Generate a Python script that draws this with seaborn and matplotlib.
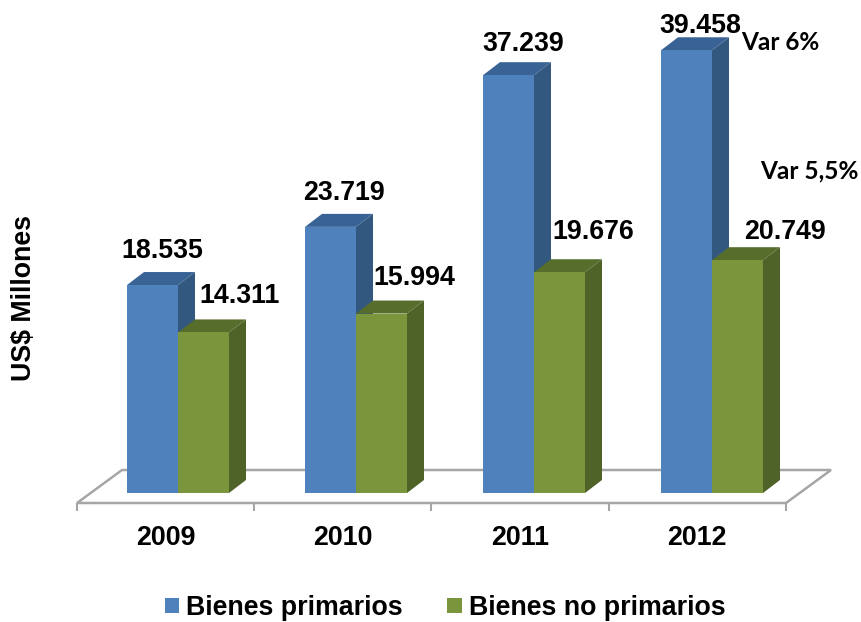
import matplotlib
matplotlib.use("Agg")
import matplotlib.pyplot as plt
import numpy as np
import pandas as pd
import seaborn as sns
from matplotlib.patches import Polygon

years = ["2009", "2010", "2011", "2012"]
primarios = [18535, 23719, 37239, 39458]
no_primarios = [14311, 15994, 19676, 20749]
series_names = ["Bienes primarios", "Bienes no primarios"]
value_labels_primarios = ["18.535", "23.719", "37.239", "39.458"]
value_labels_no_primarios = ["14.311", "15.994", "19.676", "20.749"]

front_colors = ["#4F81BD", "#7A953C"]
side_colors = ["#335880", "#4F6228"]
top_colors = ["#3A6395", "#566D2B"]
floor_color = "#A6A6A6"

sns.set_theme(style="white")
plt.rcParams["font.family"] = ["Liberation Sans", "DejaVu Sans"]
W, H = 862, 622
FS = 19.3
fig = plt.figure(figsize=(W / 100, H / 100), dpi=100)
L, R, T, B = 77, 786, 30, 503
ax = fig.add_axes([L / W, 1 - B / H, (R - L) / W, (B - T) / H])

df = pd.DataFrame({
    "year": years * 2,
    "value": primarios + no_primarios,
    "series": [series_names[0]] * 4 + [series_names[1]] * 4,
})
sns.barplot(data=df, x="year", y="value", hue="series", hue_order=series_names,
            palette=front_colors, width=0.573, saturation=1, dodge=True,
            edgecolor="none", linewidth=0, ax=ax)

px_per_x = 178.0
px_per_y = 0.01122
base_px = 10
x_left = -101 / px_per_x
x_right = (R - 178) / px_per_x
ax.set_xlim(x_left, x_right)
ax.set_ylim(-base_px / px_per_y, (B - base_px - T) / px_per_y)

dx = 17 / px_per_x
dy = 13 / px_per_y

# Floor of the pseudo-3D box
fx = 45 / px_per_x
fy = 33 / px_per_y
y0 = ax.get_ylim()[0]
ax.add_patch(Polygon([(x_left, y0), (x_right, y0), (x_right + fx, y0 + fy), (x_left + fx, y0 + fy)],
                     closed=True, facecolor="white", edgecolor=floor_color, lw=1.8,
                     zorder=0.5, clip_on=False))

# Depth faces, derived from each bar
for i, container in enumerate(ax.containers):
    base_z = 1 + 2 * i
    for bar in container.patches:
        x0, w, h = bar.get_x(), bar.get_width(), bar.get_height()
        x1 = x0 + w
        ax.add_patch(Polygon([(x1, 0), (x1 + dx, dy), (x1 + dx, h + dy), (x1, h)], closed=True,
                             facecolor=side_colors[i], edgecolor="none", zorder=base_z, clip_on=False))
        ax.add_patch(Polygon([(x0, h), (x1, h), (x1 + dx, h + dy), (x0 + dx, h + dy)], closed=True,
                             facecolor=top_colors[i], edgecolor="none", zorder=base_z, clip_on=False))
        bar.set_zorder(base_z + 0.5)

# Value labels, hand-placed in the original (offsets in pixels from bar top centre)
offsets = [[(10, 21), (13, 21), (15, 18), (14, 11)],
           [(36, 23), (33, 23), (34, 27), (48, 15)]]
labels = [value_labels_primarios, value_labels_no_primarios]
for i, container in enumerate(ax.containers):
    for j, bar in enumerate(container.patches):
        ax.annotate(labels[i][j], (bar.get_x() + bar.get_width() / 2, bar.get_height()),
                    xytext=(offsets[i][j][0] * 0.72, offsets[i][j][1] * 0.72),
                    textcoords="offset points", ha="center", va="bottom",
                    fontsize=FS, fontweight="bold", color="black", zorder=10,
                    annotation_clip=False)

# Axis
edges = np.linspace(x_left, x_right, 5)
ax.set_xticks(edges[:-1] + np.diff(edges) / 2)
ax.set_xticklabels(years, fontsize=FS, fontweight="bold", color="black")
ax.set_xticks(edges, minor=True)
ax.tick_params(axis="x", which="major", length=0, pad=16)
ax.tick_params(axis="x", which="minor", length=5.5, width=1.5, color=floor_color, bottom=True)
ax.set_yticks([])
ax.set_xlabel("")
ax.set_ylabel("")
for s in ax.spines.values():
    s.set_visible(False)

fig.text(24 / W, 1 - 298 / H, "US$ Millones", rotation=90, ha="center", va="center",
         fontsize=FS, fontweight="bold", color="black")

fig.text(780 / W, 1 - 43 / H, "Var 6%", ha="center", va="center",
         family="Lato", fontsize=17.6, fontweight="bold", color="black")
fig.text(809 / W, 1 - 171 / H, "Var 5,5%", ha="center", va="center",
         family="Lato", fontsize=17.6, fontweight="bold", color="black")

leg = ax.legend(loc="center", bbox_to_anchor=(445 / W, 1 - 608 / H), bbox_transform=fig.transFigure,
                ncol=2, frameon=False, prop={"size": FS, "weight": "bold"},
                handlelength=0.53, handleheight=0.53, handletextpad=0.27, columnspacing=1.67,
                borderpad=0, borderaxespad=0, labelcolor="black")

fig.savefig("out.png", dpi=100, facecolor="white")
